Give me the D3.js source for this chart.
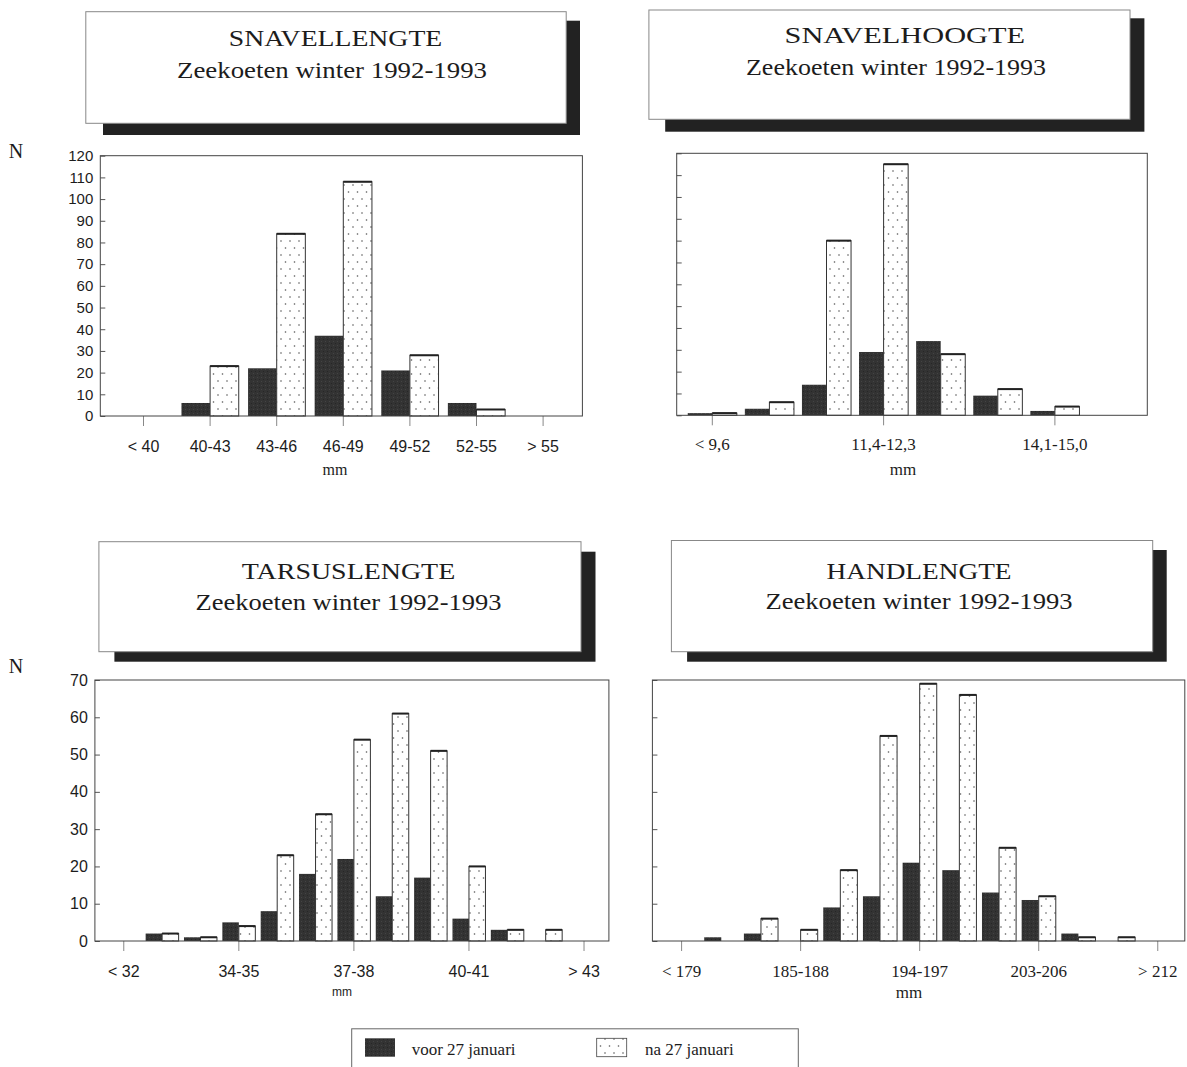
<!DOCTYPE html>
<html><head><meta charset="utf-8">
<script src="https://cdn.jsdelivr.net/npm/d3@7"></script>
<style>html,body{margin:0;padding:0;background:#fff;} svg{display:block;}</style>
</head><body>
<script>
// ---------- DATA ----------
const series = ["voor 27 januari", "na 27 januari"];
const panelTitles = ["SNAVELLENGTE", "SNAVELHOOGTE", "TARSUSLENGTE", "HANDLENGTE"];
const subtitle = "Zeekoeten winter 1992-1993";
const yName = "N";
const xName = "mm";

const catSnavellengte = ["< 40", "40-43", "43-46", "46-49", "49-52", "52-55", "> 55"];
const voorSnavellengte = [0, 6, 22, 37, 21, 6, 0];
const naSnavellengte   = [0, 23, 84, 108, 28, 3, 0];
const shownSnavellengte = ["< 40", "40-43", "43-46", "46-49", "49-52", "52-55", "> 55"];

const catSnavelhoogte = ["< 9,6", "9,6-10,5", "10,5-11,4", "11,4-12,3", "12,3-13,2", "13,2-14,1", "14,1-15,0", "> 15,0"];
const voorSnavelhoogte = [1, 3, 14, 29, 34, 9, 2, 0];
const naSnavelhoogte   = [1, 6, 80, 115, 28, 12, 4, 0];
const shownSnavelhoogte = ["< 9,6", "11,4-12,3", "14,1-15,0"];

const catTarsus = ["< 32", "32-33", "33-34", "34-35", "35-36", "36-37", "37-38", "38-39", "39-40", "40-41", "41-42", "42-43", "> 43"];
const voorTarsus = [0, 2, 1, 5, 8, 18, 22, 12, 17, 6, 3, 0, 0];
const naTarsus   = [0, 2, 1, 4, 23, 34, 54, 61, 51, 20, 3, 3, 0];
const shownTarsus = ["< 32", "34-35", "37-38", "40-41", "> 43"];

const catHand = ["< 179", "179-182", "182-185", "185-188", "188-191", "191-194", "194-197", "197-200", "200-203", "203-206", "206-209", "209-212", "> 212"];
const voorHand = [0, 1, 2, 0, 9, 12, 21, 19, 13, 11, 2, 0, 0];
const naHand   = [0, 0, 6, 3, 19, 55, 69, 66, 25, 12, 1, 1, 0];
const shownHand = ["< 179", "185-188", "194-197", "203-206", "> 212"];

const yTicks120 = [0, 10, 20, 30, 40, 50, 60, 70, 80, 90, 100, 110, 120];
const yTicks70 = [0, 10, 20, 30, 40, 50, 60, 70];

// ---------- LAYOUT ----------
const W = 1187, H = 1067;
const ink = "#1c1c1c";
const darkFill = "#333";

const panels = [
  { cats: catSnavellengte, voor: voorSnavellengte, na: naSnavellengte, shown: shownSnavellengte,
    yTicks: yTicks120, showY: true, yFont: "Liberation Sans", yFs: 15,
    box: [100.3, 582.4, 155.7, 416], band: [110.2, 576.4],
    xFont: "Liberation Sans", xFs: 16, xOff: 36, mmFont: "Liberation Serif", mmFs: 16, mmX: 335, mmOff: 58.5 },
  { cats: catSnavelhoogte, voor: voorSnavelhoogte, na: naSnavelhoogte, shown: shownSnavelhoogte,
    yTicks: yTicks120, showY: false,
    box: [676.7, 1147.3, 153.3, 415.3], band: [683.75, 1140.55],
    xFont: "Liberation Serif", xFs: 17, xOff: 35, mmFont: "Liberation Serif", mmFs: 17, mmX: 903, mmOff: 59.5 },
  { cats: catTarsus, voor: voorTarsus, na: naTarsus, shown: shownTarsus,
    yTicks: yTicks70, showY: true, yFont: "Liberation Sans", yFs: 16,
    box: [94.9, 608.9, 680, 941], band: [104.6, 603.2],
    xFont: "Liberation Sans", xFs: 16, xOff: 36, mmFont: "Liberation Sans", mmFs: 12, mmX: 342, mmOff: 55 },
  { cats: catHand, voor: voorHand, na: naHand, shown: shownHand,
    yTicks: yTicks70, showY: false,
    box: [652.4, 1184.8, 680, 941], band: [661.76, 1177.6],
    xFont: "Liberation Serif", xFs: 17, xOff: 36, mmFont: "Liberation Serif", mmFs: 17, mmX: 909, mmOff: 57 }
];

const titleBoxes = [
  { box: [85.8, 11.7, 566.2, 123.3], shadow: [103, 20.7, 580, 135], l1: [335.5, 45.5, 213.5], l2: [332, 78, 310] },
  { box: [648.9, 10, 1130, 119.3], shadow: [665.2, 18.3, 1144.4, 131.7], l1: [904.8, 42.5, 240.5], l2: [896, 75, 300] },
  { box: [98.9, 541.7, 581, 651.7], shadow: [114.4, 551.7, 595.5, 661.7], l1: [348.5, 578.5, 213.5], l2: [348.6, 609.5, 306] },
  { box: [671.4, 540.5, 1152.7, 651.7], shadow: [687.1, 550, 1166.7, 661.7], l1: [919, 578.5, 185], l2: [919, 608.5, 307] }
];

const svg = d3.select("body").append("svg").attr("width", W).attr("height", H)
  .style("background", "#fff");

const defs = svg.append("defs");
const pat = defs.append("pattern").attr("id", "dots").attr("patternUnits", "userSpaceOnUse")
  .attr("width", 9).attr("height", 14);
pat.append("rect").attr("width", 9).attr("height", 14).attr("fill", "#fff");
pat.append("circle").attr("cx", 2).attr("cy", 3).attr("r", 0.8).attr("fill", "#555");
pat.append("circle").attr("cx", 6.5).attr("cy", 10).attr("r", 0.8).attr("fill", "#555");

const tex = defs.append("pattern").attr("id", "darktex").attr("patternUnits", "userSpaceOnUse")
  .attr("width", 4).attr("height", 4);
tex.append("rect").attr("width", 4).attr("height", 4).attr("fill", darkFill);
tex.append("rect").attr("x", 1).attr("y", 1).attr("width", 1).attr("height", 1).attr("fill", "#444");
tex.append("rect").attr("x", 3).attr("y", 3).attr("width", 1).attr("height", 1).attr("fill", "#262626");

// ---------- TITLE BOXES ----------
titleBoxes.forEach((t, i) => {
  const g = svg.append("g");
  g.append("rect").attr("x", t.shadow[0]).attr("y", t.shadow[1])
    .attr("width", t.shadow[2] - t.shadow[0]).attr("height", t.shadow[3] - t.shadow[1])
    .attr("fill", "#222");
  g.append("rect").attr("x", t.box[0]).attr("y", t.box[1])
    .attr("width", t.box[2] - t.box[0]).attr("height", t.box[3] - t.box[1])
    .attr("fill", "#fff").attr("stroke", "#888").attr("stroke-width", 1);
  g.append("text").attr("x", t.l1[0]).attr("y", t.l1[1]).attr("text-anchor", "middle")
    .attr("font-family", "Liberation Serif").attr("font-size", 23).attr("fill", ink)
    .attr("textLength", t.l1[2]).attr("lengthAdjust", "spacingAndGlyphs")
    .text(panelTitles[i]);
  g.append("text").attr("x", t.l2[0]).attr("y", t.l2[1]).attr("text-anchor", "middle")
    .attr("font-family", "Liberation Serif").attr("font-size", 24).attr("fill", ink)
    .attr("textLength", t.l2[2]).attr("lengthAdjust", "spacingAndGlyphs")
    .text(subtitle);
});

// N labels
[[16, 158], [16, 673]].forEach(p => {
  svg.append("text").attr("x", p[0]).attr("y", p[1]).attr("text-anchor", "middle")
    .attr("font-family", "Liberation Serif").attr("font-size", 20).attr("fill", ink).text(yName);
});

// ---------- PANELS ----------
panels.forEach(p => {
  const [bx0, bx1, by0, by1] = p.box;
  const yMax = p.yTicks[p.yTicks.length - 1];
  const x = d3.scaleBand().domain(p.cats).range(p.band).padding(0);
  const y = d3.scaleLinear().domain([0, yMax]).range([by1, by0]);
  const bw = x.bandwidth() * 0.43;
  const g = svg.append("g");

  // x axis
  const xa = g.append("g").attr("transform", `translate(0,${by1})`)
    .call(d3.axisBottom(x).tickValues(p.shown).tickSize(10).tickSizeOuter(0));
  xa.select(".domain").remove();
  xa.selectAll(".tick line").attr("stroke", "#888").attr("stroke-width", 1);
  xa.selectAll(".tick text").attr("y", p.xOff).attr("dy", 0)
    .attr("font-family", p.xFont).attr("font-size", p.xFs).attr("fill", ink);

  // y axis
  const ya = g.append("g").attr("transform", `translate(${bx0},0)`)
    .call(d3.axisLeft(y).tickValues(p.yTicks).tickSize(-5).tickPadding(7)
      .tickFormat(p.showY ? d3.format("d") : () => ""));
  ya.select(".domain").remove();
  ya.selectAll(".tick line").attr("stroke", "#555");
  ya.selectAll(".tick text").attr("font-family", p.yFont || "Liberation Sans")
    .attr("font-size", p.yFs || 14).attr("fill", ink);

  // bars
  const data = p.cats.map((c, i) => ({ c, voor: p.voor[i], na: p.na[i] }));
  const cx = d => x(d.c) + x.bandwidth() / 2;
  g.selectAll("rect.voor").data(data.filter(d => d.voor > 0)).join("rect")
    .attr("class", "voor")
    .attr("x", d => cx(d) - bw).attr("width", bw)
    .attr("y", d => y(d.voor)).attr("height", d => y(0) - y(d.voor))
    .attr("fill", "url(#darktex)");
  g.selectAll("rect.na").data(data.filter(d => d.na > 0)).join("rect")
    .attr("class", "na")
    .attr("x", d => cx(d)).attr("width", bw)
    .attr("y", d => y(d.na)).attr("height", d => y(0) - y(d.na))
    .attr("fill", "url(#dots)").attr("stroke", "#333").attr("stroke-width", 1);
  g.selectAll("line.natop").data(data.filter(d => d.na > 0)).join("line")
    .attr("class", "natop")
    .attr("x1", d => cx(d)).attr("x2", d => cx(d) + bw)
    .attr("y1", d => y(d.na)).attr("y2", d => y(d.na))
    .attr("stroke", "#222").attr("stroke-width", 2);

  // box
  g.append("rect").attr("x", bx0).attr("y", by0).attr("width", bx1 - bx0).attr("height", by1 - by0)
    .attr("fill", "none").attr("stroke", "#444").attr("stroke-width", 1);

  // mm label
  g.append("text").attr("x", p.mmX).attr("y", by1 + p.mmOff).attr("text-anchor", "middle")
    .attr("font-family", p.mmFont).attr("font-size", p.mmFs).attr("fill", ink).text(xName);
});

// ---------- LEGEND ----------
const lg = svg.append("g");
lg.append("rect").attr("x", 351.7).attr("y", 1028.8).attr("width", 798.3 - 351.7).attr("height", 50)
  .attr("fill", "#fff").attr("stroke", "#666").attr("stroke-width", 1);
const legendItems = [
  { name: series[0], sx: 365, tx: 411.7, fill: "url(#darktex)", stroke: "none" },
  { name: series[1], sx: 596.7, tx: 645, fill: "url(#dots)", stroke: "#444" }
];
legendItems.forEach(it => {
  lg.append("rect").attr("x", it.sx).attr("y", 1038.3).attr("width", 30).attr("height", 18.4)
    .attr("fill", it.fill).attr("stroke", it.stroke).attr("stroke-width", 0.8);
  lg.append("text").attr("x", it.tx).attr("y", 1054.5)
    .attr("font-family", "Liberation Serif").attr("font-size", 17).attr("fill", ink).text(it.name);
});
</script>
</body></html>
